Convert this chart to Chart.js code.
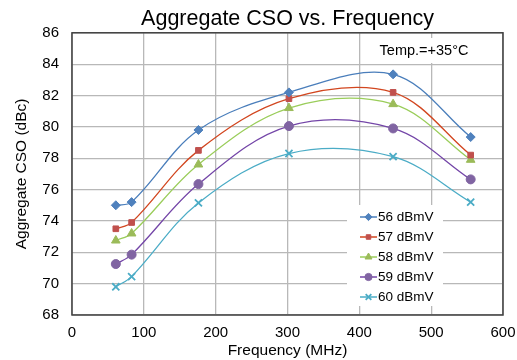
<!DOCTYPE html>
<html>
<head>
<meta charset="utf-8">
<script src="https://cdn.jsdelivr.net/npm/chart.js@4/dist/chart.umd.min.js"></script>
<style>
  html, body { margin: 0; padding: 0; background: #fff; overflow: hidden; }
</style>
</head>
<body>
<canvas id="csoChart" width="517" height="360"></canvas>
<script>
"use strict";

// Частоти (МГц) та значення CSO (дБн) для кожного рівня сигналу
const frequencies = [61, 83, 176, 302, 447, 555];
const seriesLabels = ['56 dBmV', '57 dBmV', '58 dBmV', '59 dBmV', '60 dBmV'];
const cso56 = [75.0, 75.2, 79.8, 82.2, 83.35, 79.35];
const cso57 = [73.5, 73.9, 78.5, 81.8, 82.2, 78.2];
const cso58 = [72.75, 73.2, 77.6, 81.2, 81.45, 77.9];
const cso59 = [71.25, 71.85, 76.35, 80.05, 79.9, 76.65];
const cso60 = [69.8, 70.45, 75.15, 78.3, 78.1, 75.2];
const tempNote = 'Temp.=+35°C';

const FONT = '"Liberation Sans", Arial, sans-serif';

const styles = [
    { line: '#4a7ebb', fill: '#4f81bd', point: 'rectRot', r: 4.5 },
    { line: '#d2461f', fill: '#c0504d', point: 'rect', r: 4 },
    { line: '#9acd5a', fill: '#9bbb59', point: 'triangle', r: 5 },
    { line: '#7446a8', fill: '#8064a2', point: 'circle', r: 4.5 },
    { line: '#4bacc6', fill: '#4bacc6', point: 'crossRot', r: 5 }
];

function toPoints(values) {
    return values.map((v, i) => ({ x: frequencies[i], y: v }));
}

const allSeries = [cso56, cso57, cso58, cso59, cso60];

const datasets = allSeries.map((values, i) => ({
    label: seriesLabels[i],
    data: toPoints(values),
    borderColor: styles[i].line,
    borderWidth: 1.3,
    backgroundColor: styles[i].fill,
    pointBackgroundColor: styles[i].fill,
    pointBorderColor: styles[i].fill,
    pointBorderWidth: styles[i].point === 'crossRot' ? 1.8 : 1,
    pointStyle: styles[i].point,
    pointRadius: styles[i].r,
    tension: 0.35,
    fill: false
}));

// Білі панелі (температура, легенда) та рамка області графіка
const boxesPlugin = {
    id: 'boxes',
    beforeDatasetsDraw(chart) {
        const ctx = chart.ctx;
        ctx.save();
        ctx.fillStyle = '#fff';
        ctx.fillRect(373, 38, 119, 25);
        ctx.fillRect(347, 205, 96, 101);
        ctx.fillStyle = '#000';
        ctx.font = '14.5px ' + FONT;
        ctx.textAlign = 'center';
        ctx.textBaseline = 'middle';
        ctx.fillText(tempNote, 424, 51);
        ctx.restore();
    },
    afterDatasetsDraw(chart) {
        const ctx = chart.ctx;
        const a = chart.chartArea;
        ctx.save();
        ctx.strokeStyle = '#404040';
        ctx.lineWidth = 1.5;
        ctx.strokeRect(a.left, a.top, a.right - a.left, a.bottom - a.top);

        // Легенда: зразок лінії, маркер і підпис
        ctx.font = '13.5px ' + FONT;
        ctx.textBaseline = 'middle';
        ctx.textAlign = 'left';
        chart.data.datasets.forEach((ds, i) => {
            const y = 217 + i * 20;
            ctx.strokeStyle = ds.borderColor;
            ctx.lineWidth = 1.5;
            ctx.beginPath();
            ctx.moveTo(360, y);
            ctx.lineTo(377, y);
            ctx.stroke();
            ctx.fillStyle = ds.pointBackgroundColor;
            ctx.strokeStyle = ds.pointBorderColor;
            ctx.lineWidth = ds.pointBorderWidth;
            Chart.helpers.drawPoint(ctx, {
                pointStyle: ds.pointStyle,
                radius: ds.pointRadius * 0.8,
                borderWidth: ds.pointBorderWidth,
                rotation: 0
            }, 368.5, y);
            ctx.fillStyle = '#000';
            ctx.fillText(ds.label, 378, y);
        });
        ctx.restore();
    }
};

new Chart(document.getElementById('csoChart'), {
    type: 'line',
    data: { datasets: datasets },
    plugins: [boxesPlugin],
    options: {
        responsive: false,
        animation: false,
        layout: { padding: { left: 0, right: 14, top: 0, bottom: 0 } },
        plugins: {
            legend: { display: false },
            tooltip: { enabled: false },
            title: {
                display: true,
                text: 'Aggregate CSO vs. Frequency',
                fullSize: false,
                color: '#000',
                font: { family: FONT, size: 21.5, weight: 'normal' },
                padding: { top: 6, bottom: 1 }
            }
        },
        scales: {
            x: {
                type: 'linear',
                min: 0,
                max: 600,
                afterFit: function(scale) {
                    scale.height = 45;
                    scale.paddingRight = 14;
                    scale.paddingLeft = 0;
                },
                ticks: {
                    stepSize: 100,
                    color: '#000',
                    padding: 9,
                    font: { family: FONT, size: 15 }
                },
                grid: { color: '#b8b8b8', lineWidth: 1.3, drawTicks: false },
                border: { display: false },
                title: {
                    display: true,
                    text: 'Frequency (MHz)',
                    color: '#000',
                    padding: { top: 0, bottom: 0 },
                    font: { family: FONT, size: 15.5 }
                }
            },
            y: {
                min: 68,
                max: 86,
                afterFit: function(scale) { scale.width = 72; },
                ticks: {
                    stepSize: 2,
                    color: '#000',
                    padding: 13,
                    font: { family: FONT, size: 15 }
                },
                grid: { color: '#b8b8b8', lineWidth: 1.3, drawTicks: false },
                border: { display: false },
                title: {
                    display: true,
                    text: 'Aggregate CSO (dBc)',
                    color: '#000',
                    padding: { top: 12, bottom: 0 },
                    font: { family: FONT, size: 15.5 }
                }
            }
        }
    }
});
</script>
</body>
</html>
